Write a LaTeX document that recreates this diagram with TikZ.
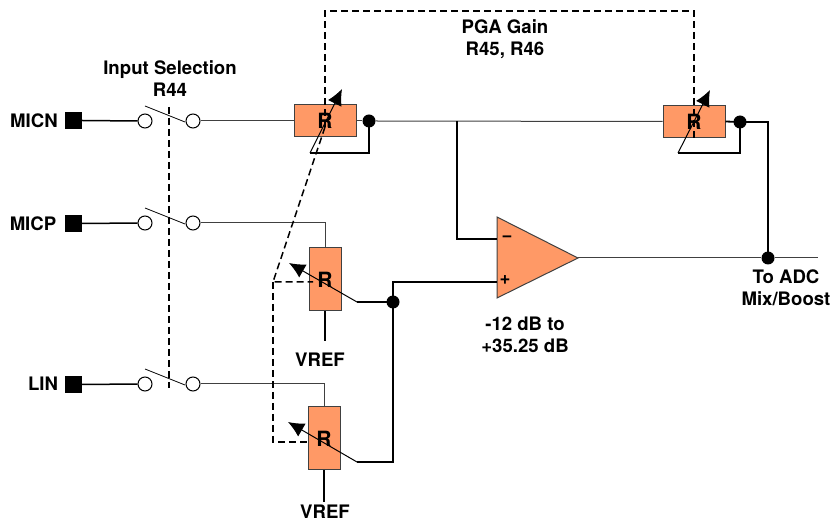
\documentclass[tikz,border=0pt]{standalone}
\usepackage{fontspec}
\setmainfont{TeX Gyre Heros}
\usetikzlibrary{arrows.meta}
\definecolor{boxfill}{HTML}{FF9966}
\definecolor{wiregray}{HTML}{404040}
\tikzset{
  lbl/.style={font=\fontsize{18.6}{22}\selectfont\bfseries,inner sep=0pt},
  lblm/.style={lbl,align=center},
  resbox/.style={draw=wiregray,line width=1pt,fill=boxfill,inner sep=0pt,font=\fontsize{21}{22}\selectfont\bfseries},
  hres/.style={resbox,minimum width=62pt,minimum height=32pt},
  vres/.style={resbox,minimum width=32pt,minimum height=63pt},
  term/.style={fill=black,inner sep=0pt,minimum size=17pt},
  swc/.style={circle,draw=black,line width=1pt,fill=white,inner sep=0pt,minimum size=14pt},
  jdot/.style={circle,fill=black,inner sep=0pt,minimum size=13pt},
  thinw/.style={draw=wiregray,line width=1pt},
  thickw/.style={draw=black,line width=1.8pt},
  blade/.style={draw=black,line width=0.8pt},
  wiper/.style={draw=black,line width=1pt,-{Latex[length=16pt,width=15pt]}},
  gang/.style={draw=black,line width=1.5pt,dash pattern=on 7pt off 4pt},
}
\begin{document}
\begin{tikzpicture}[x=1pt,y=-1pt]
\useasboundingbox (0,0) rectangle (831,521);
% terminals and labels
\node[lbl] (lmicn) at (34,120.5) {MICN};
\node[lbl] (lmicp) at (33,223.5) {MICP};
\node[lbl] (llin) at (43,384) {LIN};
\node[term] (t1) at (73.5,120.5) {};
\node[term] (t2) at (73.5,223.5) {};
\node[term] (t3) at (73.5,384.5) {};
% switch contacts
\node[swc] (a1) at (145,121) {};
\node[swc] (b1) at (193,121) {};
\node[swc] (a2) at (145,223) {};
\node[swc] (b2) at (193,223) {};
\node[swc] (a3) at (145,384) {};
\node[swc] (b3) at (193,384) {};
% resistors
\node[hres] (r1) at (325,121) {R};
\node[hres] (r4) at (694,121.5) {R};
\node[vres] (r2) at (325,279.5) {R};
\node[vres] (r3) at (324,438.5) {R};
% op amp
\coordinate (ota) at (497,217);
\coordinate (otb) at (497,298);
\coordinate (otc) at (578,258);
\draw[draw=wiregray,line width=1pt,fill=boxfill] (ota) -- (otc) -- (otb) -- cycle;
\node[lbl] (minus) at (507,239) {\textminus};
\node[lbl] (plus) at (505,280) {+};
% dots
\node[jdot] (d1) at (369,121) {};
\node[jdot] (d4) at (740,122) {};
\node[jdot] (d5) at (768,258) {};
\node[jdot] (d2) at (393,302) {};
% helper coordinates
\coordinate (j1) at (457,121);
\coordinate (inn) at (497,239);
\coordinate (inp) at (497,282);
\coordinate (outend) at (818,258);
\coordinate (f1a) at (369,153);
\coordinate (f1b) at (310,153);
\coordinate (f1c) at (342,89);
\coordinate (f4a) at (740,153);
\coordinate (f4b) at (678,153);
\coordinate (f4c) at (710,90);
\coordinate (w2a) at (357,302);
\coordinate (w2b) at (289,263);
\coordinate (w3a) at (357,462);
\coordinate (w3b) at (288,422);
\coordinate (v2) at (325,341);
\coordinate (v3) at (324,502);
\coordinate (s1) at (145,106);
\coordinate (s1e) at (185,122);
\coordinate (s2) at (145,208);
\coordinate (s2e) at (185,224);
\coordinate (s3) at (145,369);
\coordinate (s3e) at (185,385);
\coordinate (g1) at (169,107);
\coordinate (g2) at (169,388);
\coordinate (h1) at (325,127);
\coordinate (h2) at (325,11);
\coordinate (h3) at (694,11);
\coordinate (h4) at (694,139);
\coordinate (h5) at (273,282);
\coordinate (h6) at (313,282);
\coordinate (h7) at (273,442);
\coordinate (h8) at (310,442);
% wires
\draw[thickw,line width=1.5pt] (t1.east) -- (a1.west);
\draw[thickw,line width=1.5pt] (t2.east) -- (a2.west);
\draw[thickw,line width=1.5pt] (t3.east) -- (a3.west);
\draw[blade] (s1) -- (s1e);
\draw[blade] (s2) -- (s2e);
\draw[blade] (s3) -- (s3e);
\draw[thinw] (b1.east) -- (r1.west);
\draw[thinw] (r1.east) -- (d1.west);
\draw[thinw] (d1.east) -- (r4.west);
\draw[thinw] (b2.east) -- (r2.north |- b2.east) -- (r2.north);
\draw[thinw] (b3.east) -- (r3.north |- b3.east) -- (r3.north);
\draw[thickw] (j1) -- (j1 |- inn) -- (inn);
\draw[thickw] (d2.center) -- (d2 |- inp) -- (inp);
\draw[thickw] (d2.center) -- (d2 |- w3a) -- (w3a);
\draw[thickw] (w2a) -- (d2.center);
\draw[thickw] (r2.south) -- (v2);
\draw[thickw] (r3.south) -- (v3);
\draw[thinw] (otc) -- (d5.west);
\draw[thinw] (d5.east) -- (outend);
\draw[thickw] (r4.east) -- (d4.center) -- (d4 -| d5) -- (d5.center);
\draw[thickw] (d1.center) -- (f1a) -- (f1b);
\draw[thickw] (d4.center) -- (f4a) -- (f4b);
% wipers
\draw[wiper] (f1b) -- (f1c);
\draw[wiper] (f4b) -- (f4c);
\draw[wiper] (w2a) -- (w2b);
\draw[wiper] (w3a) -- (w3b);
% ganged controls
\draw[gang] (g1) -- (g2);
\draw[gang] (h1) -- (h2) -- (h3) -- (h4);
\draw[gang] (h1) -- (h5) -- (h6);
\draw[gang] (h5) -- (h7) -- (h8);
% text
\node[lblm] (tinput) at (170,78.5) {Input Selection\\R44};
\node[lblm] (tpga) at (505,39) {PGA Gain\\R45, R46};
\node[lblm] (tadc) at (786,287.5) {To ADC\\Mix/Boost};
\node[lblm] (tgain) at (525,335) {-12 dB to\\+35.25 dB};
\node[lbl] (tv2) at (320,360) {VREF};
\node[lbl] (tv3) at (325,512) {VREF};
\end{tikzpicture}
\end{document}
